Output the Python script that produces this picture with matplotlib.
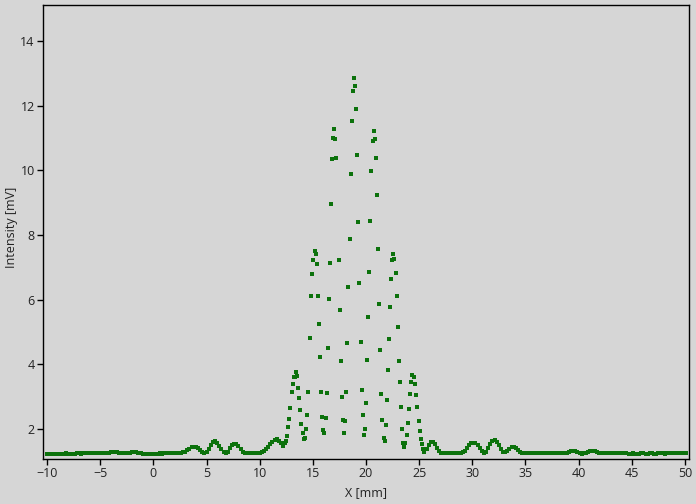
import numpy as np
import matplotlib.pyplot as plt

plt.rcParams['font.family'] = ['Open Sans', 'DejaVu Sans']

# baseline left of the fringe pattern
x_left = [-10.0, -9.8, -9.6, -9.4, -9.2, -9.0, -8.8, -8.6, -8.4, -8.2,
          -8.0, -7.8, -7.6, -7.4, -7.2, -7.0, -6.8, -6.6, -6.4, -6.2,
          -6.0, -5.8, -5.6, -5.4, -5.2, -5.0, -4.8, -4.6, -4.4, -4.2,
          -4.0, -3.8, -3.6, -3.4, -3.2, -3.0, -2.8, -2.6, -2.4, -2.2,
          -2.0, -1.8, -1.6, -1.4, -1.2, -1.0, -0.8, -0.6, -0.4, -0.2,
          0.0, 0.2, 0.4, 0.6, 0.8, 1.0, 1.2, 1.4, 1.6, 1.8,
          2.0, 2.2, 2.4, 2.6, 2.8, 3.0, 3.2, 3.4, 3.6, 3.8,
          4.0, 4.2, 4.4, 4.6, 4.8, 5.0, 5.2, 5.4, 5.6, 5.8,
          6.0, 6.2, 6.4, 6.6, 6.8, 7.0, 7.2, 7.4, 7.6, 7.8,
          8.0, 8.2, 8.4, 8.6, 8.8, 9.0, 9.2, 9.4, 9.6, 9.8,
          10.0, 10.2, 10.4, 10.6, 10.8, 11.0, 11.2, 11.4, 11.6, 11.8,
          12.0, 12.2, 12.4]
y_left = [1.22, 1.22, 1.23, 1.22, 1.23, 1.23, 1.22, 1.23, 1.23, 1.24,
          1.23, 1.23, 1.22, 1.23, 1.24, 1.24, 1.23, 1.24, 1.24, 1.25,
          1.24, 1.24, 1.25, 1.26, 1.26, 1.25, 1.25, 1.24, 1.25, 1.27,
          1.29, 1.30, 1.30, 1.29, 1.27, 1.25, 1.24, 1.24, 1.25, 1.27,
          1.29, 1.29, 1.28, 1.26, 1.24, 1.23, 1.23, 1.23, 1.22, 1.23,
          1.23, 1.23, 1.23, 1.24, 1.23, 1.24, 1.24, 1.24, 1.25, 1.24,
          1.25, 1.25, 1.26, 1.26, 1.28, 1.30, 1.34, 1.39, 1.43, 1.45,
          1.45, 1.41, 1.35, 1.30, 1.27, 1.30, 1.39, 1.50, 1.59, 1.62,
          1.58, 1.48, 1.37, 1.28, 1.25, 1.30, 1.40, 1.49, 1.54, 1.53,
          1.46, 1.37, 1.30, 1.26, 1.25, 1.25, 1.26, 1.25, 1.25, 1.26,
          1.27, 1.29, 1.33, 1.38, 1.45, 1.52, 1.60, 1.66, 1.68, 1.64,
          1.55, 1.48, 1.55]

x_mid = [12.51, 12.60, 12.69, 12.79, 12.88, 13.07, 13.16, 13.26, 13.35, 13.45,
         13.54, 13.63, 13.73, 13.82, 13.92, 14.10, 14.20, 14.29, 14.39, 14.48,
         14.57, 14.76, 14.86, 14.95, 15.05, 15.23, 15.33, 15.42, 15.51, 15.61,
         15.70, 15.80, 15.89, 15.99, 16.08, 16.27, 16.36, 16.47, 16.55, 16.64,
         16.74, 16.83, 16.93, 17.02, 17.11, 17.21, 17.51, 17.58, 17.68, 17.77,
         17.87, 17.96, 18.07, 18.15, 18.26, 18.34, 18.51, 18.61, 18.71, 18.81,
         18.90, 18.99, 19.09, 19.18, 19.28, 19.37, 19.56, 19.65, 19.75, 19.84,
         19.94, 20.03, 20.12, 20.22, 20.31, 20.41, 20.49, 20.69, 20.78, 20.88,
         20.97, 21.06, 21.16, 21.25, 21.34, 21.44, 21.53, 21.72, 21.82, 21.93,
         22.00, 22.10, 22.19, 22.29, 22.37, 22.47, 22.57, 22.63, 22.85, 22.94,
         23.04, 23.13, 23.23, 23.32, 23.41, 23.51, 23.60, 23.70, 23.88, 23.98,
         24.07, 24.17, 24.26, 24.36, 24.54, 24.64, 24.73, 24.83, 25.01, 25.11,
         25.20, 25.30, 25.39]
y_mid = [1.62, 1.78, 2.05, 2.30, 2.64, 3.13, 3.38, 3.60, 3.62, 3.75,
         3.63, 3.26, 2.95, 2.58, 2.15, 1.87, 1.68, 1.71, 1.99, 2.42,
         3.13, 4.80, 6.10, 6.78, 7.24, 7.50, 7.42, 7.09, 6.10, 5.24,
         4.22, 3.13, 2.36, 1.96, 1.87, 2.33, 3.10, 4.50, 6.01, 7.12,
         8.97, 10.34, 11.00, 11.29, 10.98, 10.37, 7.22, 5.67, 4.09, 2.98,
         2.29, 1.87, 2.24, 3.13, 4.65, 6.38, 7.89, 9.90, 11.54, 12.47,
         12.87, 12.60, 11.91, 10.46, 8.39, 6.50, 4.68, 3.20, 2.42, 1.80,
         1.99, 2.79, 4.12, 5.45, 6.84, 8.42, 9.99, 10.92, 11.23, 10.98,
         10.37, 9.25, 7.58, 5.88, 4.43, 3.07, 2.27, 1.71, 1.64, 2.11,
         2.89, 3.81, 4.77, 5.76, 6.63, 7.24, 7.40, 7.27, 6.81, 6.10,
         5.14, 4.09, 3.44, 2.67, 1.99, 1.56, 1.43, 1.56, 1.81, 2.18,
         2.61, 3.07, 3.45, 3.66, 3.60, 3.38, 3.04, 2.67, 2.24, 1.93,
         1.68, 1.53, 1.37]

# baseline right of the fringe pattern
x_right = [25.5, 25.7, 25.9, 26.1, 26.3, 26.5, 26.7, 26.9, 27.1, 27.3,
           27.5, 27.7, 27.9, 28.1, 28.3, 28.5, 28.7, 28.9, 29.1, 29.3,
           29.5, 29.7, 29.9, 30.1, 30.3, 30.5, 30.7, 30.9, 31.1, 31.3,
           31.5, 31.7, 31.9, 32.1, 32.3, 32.5, 32.7, 32.9, 33.1, 33.3,
           33.5, 33.7, 33.9, 34.1, 34.3, 34.5, 34.7, 34.9, 35.1, 35.3,
           35.5, 35.7, 35.9, 36.1, 36.3, 36.5, 36.7, 36.9, 37.1, 37.3,
           37.5, 37.7, 37.9, 38.1, 38.3, 38.5, 38.7, 38.9, 39.1, 39.3,
           39.5, 39.7, 39.9, 40.1, 40.3, 40.5, 40.7, 40.9, 41.1, 41.3,
           41.5, 41.7, 41.9, 42.1, 42.3, 42.5, 42.7, 42.9, 43.1, 43.3,
           43.5, 43.7, 43.9, 44.1, 44.3, 44.5, 44.7, 44.9, 45.1, 45.3,
           45.5, 45.7, 45.9, 46.1, 46.3, 46.5, 46.7, 46.9, 47.1, 47.3,
           47.5, 47.7, 47.9, 48.1, 48.3, 48.5, 48.7, 48.9, 49.1, 49.3,
           49.5, 49.7, 49.9, 50.1]
y_right = [1.30, 1.38, 1.50, 1.60, 1.61, 1.52, 1.40, 1.31, 1.26, 1.25,
           1.25, 1.26, 1.25, 1.26, 1.25, 1.26, 1.25, 1.26, 1.28, 1.32,
           1.40, 1.49, 1.55, 1.58, 1.57, 1.50, 1.40, 1.31, 1.26, 1.30,
           1.42, 1.54, 1.63, 1.65, 1.60, 1.49, 1.38, 1.30, 1.28, 1.33,
           1.39, 1.43, 1.44, 1.41, 1.35, 1.29, 1.26, 1.25, 1.25, 1.25,
           1.25, 1.25, 1.25, 1.25, 1.25, 1.25, 1.25, 1.25, 1.25, 1.24,
           1.25, 1.25, 1.25, 1.24, 1.25, 1.25, 1.26, 1.27, 1.29, 1.31,
           1.32, 1.31, 1.28, 1.25, 1.23, 1.24, 1.26, 1.29, 1.31, 1.32,
           1.32, 1.30, 1.27, 1.25, 1.25, 1.26, 1.26, 1.25, 1.24, 1.25,
           1.25, 1.24, 1.24, 1.25, 1.25, 1.24, 1.23, 1.23, 1.24, 1.23,
           1.22, 1.23, 1.24, 1.24, 1.23, 1.23, 1.24, 1.24, 1.23, 1.23,
           1.24, 1.24, 1.24, 1.23, 1.24, 1.25, 1.25, 1.26, 1.25, 1.24,
           1.24, 1.24, 1.25, 1.25]

x = np.concatenate([x_left, x_mid, x_right])
y = np.concatenate([y_left, y_mid, y_right])

bg = '#d6d6d6'
fig = plt.figure(figsize=(6.96, 5.04), dpi=100)
fig.set_facecolor(bg)
ax = fig.add_axes([0.0618, 0.0893, 0.928, 0.9017])
ax.set_facecolor(bg)

ax.plot(x, y, linestyle='none', marker='s', markersize=2.4,
        markeredgewidth=0, color='#0c720c')

ax.set_xlim(-10.38, 50.38)
ax.set_ylim(1.07, 15.13)
ax.set_xticks(np.arange(-10, 51, 5))
ax.set_yticks(np.arange(2, 15, 2))

for s in ax.spines.values():
    s.set_color('black')
    s.set_linewidth(1)

ax.tick_params(direction='out', length=4, width=1, colors='black',
               labelsize=9, labelcolor='#222222', pad=2)
ax.set_xlabel('X [mm]', fontsize=9, color='#222222', labelpad=4)
ax.set_ylabel('Intensity [mV]', fontsize=9, color='#222222')
ax.yaxis.set_label_coords(-0.039, 0.51)

fig.savefig('out.png', dpi=100, facecolor=bg)
